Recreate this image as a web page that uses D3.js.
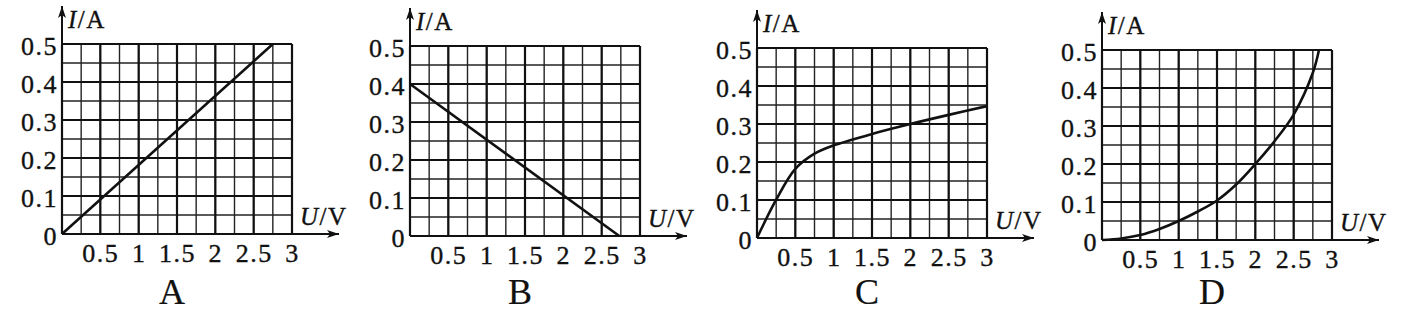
<!DOCTYPE html>
<html>
<head>
<meta charset="utf-8">
<script src="https://cdn.jsdelivr.net/npm/d3@7"></script>
<style>
  body { margin: 0; background: #fff; }
  text { font-family: "Liberation Serif", "Times New Roman", serif; fill: #111; stroke: #111; stroke-width: 0.35px; }
</style>
</head>
<body>
<script>
// panel letters
var panels = ["A", "B", "C", "D"];

// grid values (every small cell is 0.25 V by 0.05 A)
var uGrid = [0, 0.25, 0.5, 0.75, 1, 1.25, 1.5, 1.75, 2, 2.25, 2.5, 2.75, 3];
var iGrid = [0, 0.05, 0.1, 0.15, 0.2, 0.25, 0.3, 0.35, 0.4, 0.45, 0.5];
var uMajor = [0, 0.5, 1, 1.5, 2, 2.5, 3];
var iMajor = [0, 0.1, 0.2, 0.3, 0.4, 0.5];

// tick labels
var uTicks = [0.5, 1, 1.5, 2, 2.5, 3];
var uTickText = ["0.5", "1", "1.5", "2", "2.5", "3"];
var iTicks = [0, 0.1, 0.2, 0.3, 0.4, 0.5];
var iTickText = ["0", "0.1", "0.2", "0.3", "0.4", "0.5"];

// U (V) and I (A)
var uA = [0, 2.75];
var iA = [0, 0.5];

var uB = [0, 2.73];
var iB = [0.4, 0];

var uC = [0, 0.25, 0.5, 0.75, 1, 1.25, 1.5, 2, 2.5, 3];
var iC = [0, 0.101, 0.182, 0.222, 0.244, 0.259, 0.274, 0.3, 0.324, 0.347];

var uD = [0, 0.25, 0.5, 0.75, 1, 1.25, 1.5, 1.75, 2, 2.25, 2.5, 2.75, 2.83];
var iD = [0, 0.004, 0.013, 0.029, 0.05, 0.075, 0.104, 0.146, 0.2, 0.26, 0.33, 0.44, 0.5];

var series = [
    { u: uA, i: iA, smooth: false },
    { u: uB, i: iB, smooth: false },
    { u: uC, i: iC, smooth: true },
    { u: uD, i: iD, smooth: true }
];

var width = 1411,
    height = 312,
    pw = 230,
    ph = 190,
    // where each panel's plot area starts
    lefts = [62, 410, 757, 1102],
    tops = [44, 46, 48, 50];

var svg = d3.select("body")
    .append("svg")
    .attr("width", width)
    .attr("height", height);

var defs = svg.append("defs");
defs.append("marker")
    .attr("id", "arrow")
    .attr("viewBox", "0 0 12 8")
    .attr("refX", 12)
    .attr("refY", 4)
    .attr("markerWidth", 12)
    .attr("markerHeight", 8)
    .attr("markerUnits", "userSpaceOnUse")
    .attr("orient", "auto")
  .append("path")
    .attr("d", "M0,0 L12,4 L0,8 L3,4 Z")
    .attr("fill", "#111");

var x = d3.scaleLinear().domain([0, 3]).range([0, pw]);
var y = d3.scaleLinear().domain([0, 0.5]).range([ph, 0]);

panels.forEach(function(name, k) {

    var g = svg.append("g")
        .attr("transform", "translate(" + lefts[k] + "," + tops[k] + ")");

    // grid, minor then major
    g.selectAll(".vmin")
        .data(uGrid)
        .enter().append("line")
        .attr("x1", function(d) { return x(d); })
        .attr("x2", function(d) { return x(d); })
        .attr("y1", y(0))
        .attr("y2", y(0.5))
        .attr("stroke", "#222")
        .attr("stroke-width", 1.4);

    g.selectAll(".hmin")
        .data(iGrid)
        .enter().append("line")
        .attr("x1", x(0))
        .attr("x2", x(3))
        .attr("y1", function(d) { return y(d); })
        .attr("y2", function(d) { return y(d); })
        .attr("stroke", "#222")
        .attr("stroke-width", 1.4);

    g.selectAll(".vmaj")
        .data(uMajor)
        .enter().append("line")
        .attr("x1", function(d) { return x(d); })
        .attr("x2", function(d) { return x(d); })
        .attr("y1", y(0))
        .attr("y2", y(0.5))
        .attr("stroke", "#111")
        .attr("stroke-width", 2.2);

    g.selectAll(".hmaj")
        .data(iMajor)
        .enter().append("line")
        .attr("x1", x(0))
        .attr("x2", x(3))
        .attr("y1", function(d) { return y(d); })
        .attr("y2", function(d) { return y(d); })
        .attr("stroke", "#111")
        .attr("stroke-width", 2.2);

    // axes with arrows
    g.append("line")
        .attr("x1", x(0)).attr("y1", y(0))
        .attr("x2", x(0)).attr("y2", y(0.5) - 38)
        .attr("stroke", "#111")
        .attr("stroke-width", 2)
        .attr("marker-end", "url(#arrow)");

    g.append("line")
        .attr("x1", x(0)).attr("y1", y(0))
        .attr("x2", x(3) + 47).attr("y2", y(0))
        .attr("stroke", "#111")
        .attr("stroke-width", 2)
        .attr("marker-end", "url(#arrow)");

    // tick labels
    var xAxis = g.append("g")
        .attr("transform", "translate(0," + ph + ")")
        .call(d3.axisBottom(x)
            .tickValues(uTicks)
            .tickSize(0)
            .tickPadding(10)
            .tickFormat(function(d, n) { return uTickText[n]; }));
    xAxis.select(".domain").remove();
    xAxis.selectAll("text")
        .attr("fill", "#111")
        .style("font-size", "26px")
        .style("letter-spacing", "1.5px");

    var yAxis = g.append("g")
        .call(d3.axisLeft(y)
            .tickValues(iTicks)
            .tickSize(0)
            .tickPadding(4)
            .tickFormat(function(d, n) { return iTickText[n]; }));
    yAxis.select(".domain").remove();
    yAxis.selectAll("text")
        .attr("fill", "#111")
        .attr("dy", "10")
        .style("font-size", "26px")
        .style("letter-spacing", "1.5px");

    // axis names
    var yName = g.append("text")
        .attr("x", x(0) + 6)
        .attr("y", y(0.5) - 16)
        .style("font-size", "25px")
        .style("letter-spacing", "1.5px");
    yName.append("tspan").attr("font-style", "italic").text("I");
    yName.append("tspan").text("/A");

    var xName = g.append("text")
        .attr("x", x(3) + 8)
        .attr("y", y(0) - 9)
        .style("font-size", "25px")
        .style("letter-spacing", "1.5px");
    xName.append("tspan").attr("font-style", "italic").text("U");
    xName.append("tspan").text("/V");

    // the I-U curve
    var s = series[k];
    var pts = s.u.map(function(u, n) { return [u, s.i[n]]; });
    var line = d3.line()
        .x(function(d) { return x(d[0]); })
        .y(function(d) { return y(d[1]); })
        .curve(s.smooth ? d3.curveCatmullRom.alpha(0.5) : d3.curveLinear);

    g.append("path")
        .datum(pts)
        .attr("d", line)
        .attr("fill", "none")
        .attr("stroke", "#111")
        .attr("stroke-width", 2.6);

    // panel letter
    g.append("text")
        .attr("x", pw / 2 - 5)
        .attr("y", 304 - tops[k])
        .attr("text-anchor", "middle")
        .style("font-size", "36px")
        .style("stroke-width", "0.2px")
        .text(name);
});
</script>
</body>
</html>
